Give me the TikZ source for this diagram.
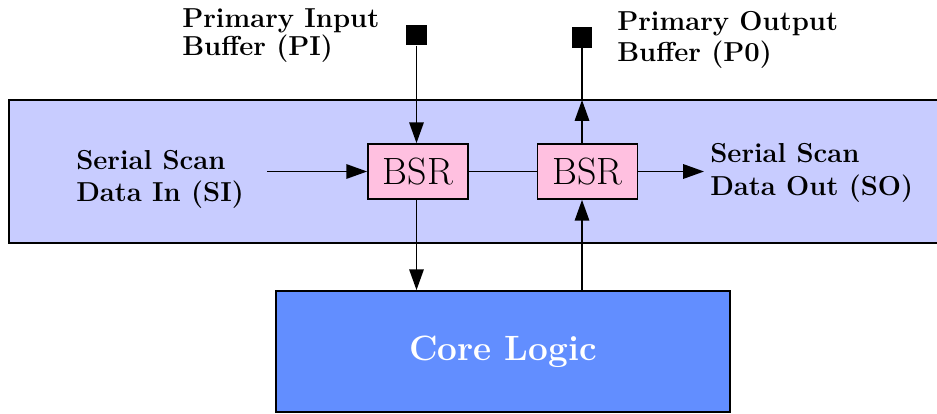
\documentclass[tikz,border=0pt]{standalone}
\usepackage{fontspec}
\usetikzlibrary{arrows.meta,positioning,calc}
\definecolor{bsBand}{HTML}{C8CCFF}
\definecolor{bsCell}{HTML}{FFC0E0}
\definecolor{bsCore}{HTML}{628EFF}
\tikzset{
  cell/.style={draw, line width=1.2pt, fill=bsCell, minimum width=2.5cm, minimum height=1.375cm,
    inner sep=0pt, font=\fontsize{27}{30}\selectfont},
  corebox/.style={draw, line width=1.2pt, fill=bsCore, minimum width=11.35cm, minimum height=3.025cm,
    inner sep=0pt, text=white, font=\fontsize{25}{28}\selectfont\bfseries},
  pin/.style={fill=black, minimum size=0.52cm, inner sep=0pt},
  lbl/.style={align=left, inner sep=0pt, anchor=north west, font=\fontsize{19.5}{21}\selectfont\bfseries},
  sig/.style={-{Triangle[length=5.2mm, width=3.6mm]}, line width=1.3pt},
  wire/.style={line width=1.3pt}
}
\begin{document}
\begin{tikzpicture}[x=0.025cm, y=-0.025cm]
  \useasboundingbox (0,0) rectangle (937,413);
  % boundary scan band
  \fill[bsBand] (9,100) rectangle (937,243);
  \draw[line width=1.2pt] (937,100) -- (9,100) -- (9,243) -- (937,243);
  \coordinate (bandTop) at (0,100);
  % cells and core
  \node[cell] (bsrIn)  at (418,171.5) {BSR};
  \node[cell] (bsrOut) at (587.5,171.5) {BSR};
  \node[corebox] (core) at (503,351.5) {Core Logic};
  % pins
  \node[pin] (pi) at (416.5,35) {};
  \node[pin] (po) at (582,37.5) {};
  \coordinate (siStart) at (267,171.5);
  \coordinate (soEnd) at (704,171.5);
  % labels
  \node[lbl, font=\fontsize{19.5}{20.5}\selectfont\bfseries] (piLbl) at (182,8) {Primary Input\\Buffer (PI)};
  \node[lbl, font=\fontsize{19.5}{22}\selectfont\bfseries] (poLbl) at (617,11) {Primary Output\\Buffer (P0)};
  \node[lbl, font=\fontsize{19.5}{23}\selectfont\bfseries] (siLbl) at (76,150) {Serial Scan\\Data In (SI)};
  \node[lbl, font=\fontsize{19.5}{23.2}\selectfont\bfseries] (soLbl) at (710,143) {Serial Scan\\Data Out (SO)};
  % connections
  \draw[sig] (pi.south) -- (pi.south |- bsrIn.north);
  \draw[sig] (siStart) -- (bsrIn.west);
  \draw[wire] (bsrIn.east) -- (bsrOut.west);
  \draw[sig] (bsrOut.east) -- (soEnd);
  \draw[sig] (pi.south |- bsrIn.south) -- (pi.south |- core.north);
  \draw[sig] (po.south |- core.north) -- (po.south |- bsrOut.south);
  \draw[sig] (po.south |- bsrOut.north) -- (po.south |- bandTop);
  \draw[wire] (po.south |- bandTop) -- (po.south);
\end{tikzpicture}
\end{document}
